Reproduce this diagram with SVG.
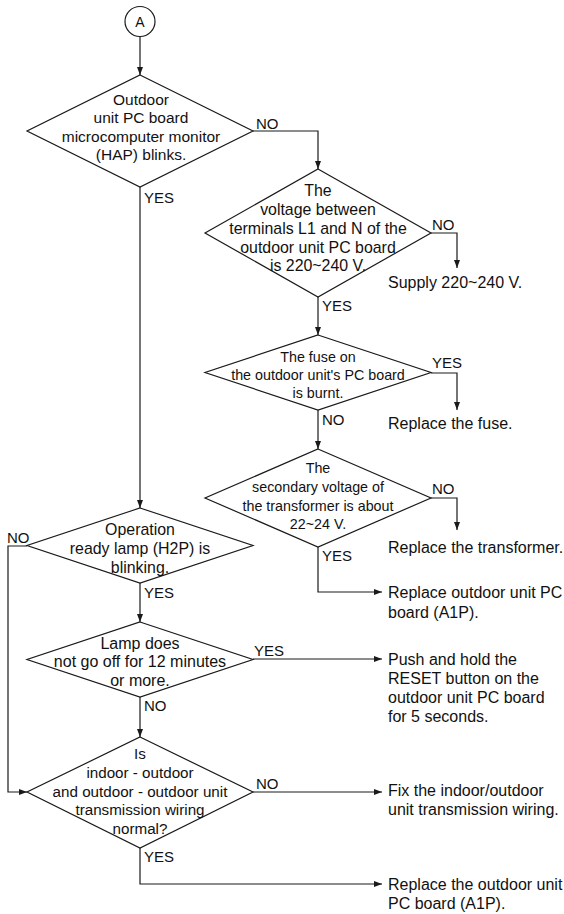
<svg xmlns="http://www.w3.org/2000/svg" width="564" height="914" viewBox="0 0 564 914">
  <style>
    .shape { fill: #ffffff; stroke: #1a1a1a; stroke-width: 1.2; }
    .wire { fill: none; stroke: #1a1a1a; stroke-width: 1.2; }
    text { font-family: "Liberation Sans", Arial, Helvetica, sans-serif; fill: #111111; }
    .q { text-anchor: middle; font-size: 15.5px; }
    .qs { text-anchor: middle; font-size: 14.3px; }
    .lbl { font-size: 15px; }
    .act { font-size: 16px; }
  </style>
  <defs>
    <marker id="arrow" markerWidth="8" markerHeight="6" refX="8" refY="3" orient="auto" markerUnits="userSpaceOnUse">
      <path d="M0,0 L8,3 L0,6 z" fill="#1a1a1a"/>
    </marker>
  </defs>

  <!-- connectors -->
  <g id="connectors">
    <path class="wire" d="M140,36.5 V75" marker-end="url(#arrow)"/>
    <path class="wire" d="M253,131 H318 V169" marker-end="url(#arrow)"/>
    <path class="wire" d="M140,187 V508" marker-end="url(#arrow)"/>
    <path class="wire" d="M431,233 H457 V268" marker-end="url(#arrow)"/>
    <path class="wire" d="M318,297 V335" marker-end="url(#arrow)"/>
    <path class="wire" d="M431,373 H457 V410" marker-end="url(#arrow)"/>
    <path class="wire" d="M318,410 V449" marker-end="url(#arrow)"/>
    <path class="wire" d="M431,498 H457 V530" marker-end="url(#arrow)"/>
    <path class="wire" d="M318,547 V592 H382" marker-end="url(#arrow)"/>
    <path class="wire" d="M140,583 V622" marker-end="url(#arrow)"/>
    <path class="wire" d="M27,546 H8 V792 H27" marker-end="url(#arrow)"/>
    <path class="wire" d="M253,659 H382" marker-end="url(#arrow)"/>
    <path class="wire" d="M140,697 V737" marker-end="url(#arrow)"/>
    <path class="wire" d="M253,792 H382" marker-end="url(#arrow)"/>
    <path class="wire" d="M140,848 V884 H382" marker-end="url(#arrow)"/>

    <text class="lbl" x="256" y="129">NO</text>
    <text class="lbl" x="144" y="203">YES</text>
    <text class="lbl" x="432" y="230">NO</text>
    <text class="lbl" x="322" y="311">YES</text>
    <text class="lbl" x="432" y="368">YES</text>
    <text class="lbl" x="322" y="425">NO</text>
    <text class="lbl" x="432" y="494">NO</text>
    <text class="lbl" x="322" y="561">YES</text>
    <text class="lbl" x="7" y="543">NO</text>
    <text class="lbl" x="144" y="598">YES</text>
    <text class="lbl" x="254" y="656">YES</text>
    <text class="lbl" x="144" y="711">NO</text>
    <text class="lbl" x="256" y="789">NO</text>
    <text class="lbl" x="144" y="862">YES</text>
  </g>

  <!-- start connector -->
  <g id="start">
    <circle class="shape" cx="140" cy="21.5" r="15"/>
    <text x="140" y="26.5" text-anchor="middle" font-size="14">A</text>
  </g>

  <g id="q-hap-blinks">
    <polygon class="shape" points="140,75 253,131 140,187 27,131"/>
    <text class="q" x="141" y="104.5">Outdoor</text>
    <text class="q" x="141" y="123">unit PC board</text>
    <text class="q" x="141" y="141.5">microcomputer monitor</text>
    <text class="q" x="141" y="160">(HAP) blinks.</text>
  </g>

  <g id="q-supply-voltage">
    <polygon class="shape" points="318,169 431,233 318,297 205,233"/>
    <text class="q" x="318" y="195.5" style="font-size:15.9px">The</text>
    <text class="q" x="318" y="214.5" style="font-size:15.9px">voltage between</text>
    <text class="q" x="318" y="233.5" style="font-size:15.9px">terminals L1 and N of the</text>
    <text class="q" x="318" y="252.5" style="font-size:15.9px">outdoor unit PC board</text>
    <text class="q" x="318" y="271" style="font-size:15.9px">is 220~240 V.</text>
  </g>

  <g id="q-fuse">
    <polygon class="shape" points="318,335 431,372.5 318,410 205,372.5"/>
    <text class="qs" x="318" y="362">The fuse on</text>
    <text class="qs" x="318" y="380">the outdoor unit's PC board</text>
    <text class="qs" x="318" y="398">is burnt.</text>
  </g>

  <g id="q-transformer">
    <polygon class="shape" points="318,449 431,498 318,547 205,498"/>
    <text class="qs" x="318" y="473">The</text>
    <text class="qs" x="318" y="492">secondary voltage of</text>
    <text class="qs" x="318" y="511">the transformer is about</text>
    <text class="qs" x="318" y="529">22~24 V.</text>
  </g>

  <g id="q-ready-lamp">
    <polygon class="shape" points="140,508 253,545.5 140,583 27,545.5"/>
    <text class="q" x="140" y="534.5" style="font-size:15.9px">Operation</text>
    <text class="q" x="140" y="553.5" style="font-size:15.9px">ready lamp (H2P) is</text>
    <text class="q" x="140" y="572.5" style="font-size:15.9px">blinking.</text>
  </g>

  <g id="q-lamp-12min">
    <polygon class="shape" points="140,622 253,659.5 140,697 27,659.5"/>
    <text class="q" x="140" y="648.5" style="font-size:16px">Lamp does</text>
    <text class="q" x="140" y="666.5" style="font-size:16px">not go off for 12 minutes</text>
    <text class="q" x="140" y="685.5" style="font-size:16px">or more.</text>
  </g>

  <g id="q-wiring">
    <polygon class="shape" points="140,737 253,792 140,848 27,792"/>
    <text class="q" x="140" y="758.5" style="font-size:15.2px">Is</text>
    <text class="q" x="140" y="777.5" style="font-size:15.2px">indoor - outdoor</text>
    <text class="q" x="140" y="796.5" style="font-size:15.2px">and outdoor - outdoor unit</text>
    <text class="q" x="140" y="815" style="font-size:15.2px">transmission wiring</text>
    <text class="q" x="140" y="833.5" style="font-size:15.2px">normal?</text>
  </g>

  <g id="a-supply">
    <text class="act" x="388" y="287.5">Supply 220~240 V.</text>
  </g>
  <g id="a-fuse">
    <text class="act" x="388" y="428.5">Replace the fuse.</text>
  </g>
  <g id="a-transformer">
    <text class="act" x="388" y="552.5">Replace the transformer.</text>
  </g>
  <g id="a-pcb-1">
    <text class="act" x="388" y="597.5">Replace outdoor unit PC</text>
    <text class="act" x="388" y="617.5">board (A1P).</text>
  </g>
  <g id="a-reset">
    <text class="act" x="388" y="664.5">Push and hold the</text>
    <text class="act" x="388" y="683.5">RESET button on the</text>
    <text class="act" x="388" y="702.5">outdoor unit PC board</text>
    <text class="act" x="388" y="721.5">for 5 seconds.</text>
  </g>
  <g id="a-wiring">
    <text class="act" x="388" y="795.5">Fix the indoor/outdoor</text>
    <text class="act" x="388" y="814.5">unit transmission wiring.</text>
  </g>
  <g id="a-pcb-2">
    <text class="act" x="388" y="889.5">Replace the outdoor unit</text>
    <text class="act" x="388" y="908.5">PC board (A1P).</text>
  </g>
</svg>
